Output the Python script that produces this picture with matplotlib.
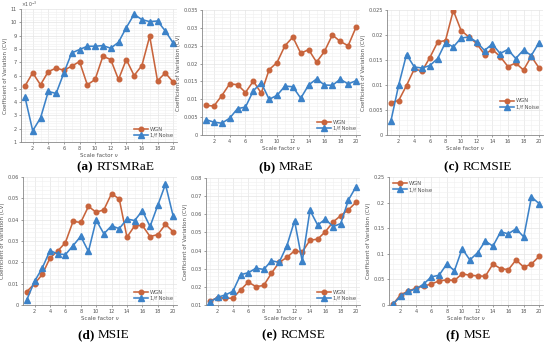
import matplotlib
matplotlib.use("Agg")
import matplotlib.pyplot as plt
from matplotlib.ticker import MultipleLocator, AutoMinorLocator, FixedLocator

# ---- data ----
scales = list(range(1, 21))

wgn_a = [5.2, 6.2, 5.3, 6.3, 6.55, 6.4, 6.7, 7.05, 5.3, 5.7, 7.45, 7.2, 5.7, 7.2, 6.0, 6.75, 8.95, 5.6, 6.2, 5.5]
pink_a = [4.4, 1.85, 2.8, 4.8, 4.65, 6.2, 7.7, 7.95, 8.2, 8.2, 8.25, 8.05, 8.5, 9.6, 10.6, 10.2, 10.05, 10.1, 9.35, 8.45]

wgn_b = [0.0083, 0.0081, 0.0110, 0.0143, 0.0141, 0.0119, 0.0151, 0.0117, 0.0183, 0.0203,
         0.0250, 0.0274, 0.0229, 0.0239, 0.0204, 0.0234, 0.0280, 0.0262, 0.0250, 0.0302]
pink_b = [0.0043, 0.0036, 0.0033, 0.0047, 0.0074, 0.0078, 0.0124, 0.0146, 0.0100, 0.0111,
          0.0137, 0.0135, 0.0103, 0.0140, 0.0157, 0.0140, 0.0139, 0.0156, 0.0143, 0.0152]

wgn_c = [0.0065, 0.0069, 0.0099, 0.0132, 0.0128, 0.0155, 0.0186, 0.0189, 0.0249, 0.0209,
         0.0196, 0.0183, 0.0161, 0.0171, 0.0157, 0.0137, 0.0144, 0.0130, 0.0157, 0.0134]
pink_c = [0.0028, 0.0100, 0.0161, 0.0136, 0.0134, 0.0139, 0.0153, 0.0185, 0.0176, 0.0194,
          0.0196, 0.0186, 0.0169, 0.0182, 0.0163, 0.0171, 0.0153, 0.0170, 0.0159, 0.0185]

wgn_d = [0.0063, 0.0100, 0.0143, 0.0220, 0.0253, 0.0292, 0.0392, 0.0387, 0.0462, 0.0435,
         0.0446, 0.0522, 0.0497, 0.0318, 0.0371, 0.0373, 0.0321, 0.0330, 0.0378, 0.0343]
pink_d = [0.0025, 0.0111, 0.0173, 0.0255, 0.0240, 0.0236, 0.0278, 0.0322, 0.0251, 0.0398,
          0.0334, 0.0371, 0.0358, 0.0403, 0.0396, 0.0442, 0.0368, 0.0467, 0.0566, 0.0417]

wgn_e = [0.0121, 0.0141, 0.0137, 0.0138, 0.0184, 0.0226, 0.0201, 0.0208, 0.0275, 0.0335,
         0.0362, 0.0399, 0.0392, 0.0457, 0.0463, 0.0504, 0.0557, 0.0593, 0.0625, 0.0667]
pink_e = [0.0115, 0.0143, 0.0155, 0.0176, 0.0267, 0.0278, 0.0303, 0.0296, 0.0344, 0.0335,
          0.0426, 0.0564, 0.0341, 0.0622, 0.0541, 0.0573, 0.0532, 0.0549, 0.0679, 0.0753]

wgn_f = [0.001, 0.020, 0.027, 0.033, 0.037, 0.041, 0.047, 0.049, 0.048, 0.061,
         0.058, 0.057, 0.056, 0.080, 0.071, 0.069, 0.088, 0.074, 0.080, 0.095]
pink_f = [0.001, 0.017, 0.027, 0.031, 0.041, 0.055, 0.058, 0.080, 0.067, 0.110,
          0.088, 0.102, 0.125, 0.115, 0.143, 0.139, 0.149, 0.133, 0.211, 0.198]

captions = [("(a)", "RTSMRaE"), ("(b)", "MRaE"), ("(c)", "RCMSIE"),
            ("(d)", "MSIE"), ("(e)", "RCMSE"), ("(f)", "MSE")]

WGN_COLOR = "#c8643c"
PINK_COLOR = "#3c82c8"

W, H = 550, 344
fig = plt.figure(figsize=(W / 100, H / 100), dpi=100)


def px_axes(l, t, r, b):
    return fig.add_axes([l / W, 1 - b / H, (r - l) / W, (b - t) / H])


# pixel box, series, ylim, major step, legend loc, legend anchor
panels = [
    ((21, 9, 177, 142), wgn_a, pink_a, (1, 11), 1, "lower right", None),
    ((202, 10, 360, 135), wgn_b, pink_b, (0, 0.035), 0.005, "lower right", None),
    ((387, 10, 543, 135), wgn_c, pink_c, (0, 0.025), 0.005, "lower right", (1.0, 0.17)),
    ((23, 177, 177, 305), wgn_d, pink_d, (0, 0.06), 0.01, "lower right", None),
    ((206, 178, 360, 305), wgn_e, pink_e, (0.01, 0.08), 0.01, "lower right", None),
    ((389, 177, 543, 305), wgn_f, pink_f, (0, 0.25), 0.05, "upper left", None),
]

for i, (box, wgn, pink, ylim, step, loc, anchor) in enumerate(panels):
    ax = px_axes(*box)
    ax.plot(scales, wgn, color=WGN_COLOR, marker="o", markersize=3.3, lw=1.15,
            label="WGN", zorder=3)
    ax.plot(scales, pink, color=PINK_COLOR, marker="^", markersize=3.8, lw=1.15,
            label="1/f Noise", zorder=3)
    ax.set_xlim(0.5, 20.5)
    ax.set_ylim(*ylim)
    ax.xaxis.set_major_locator(FixedLocator(range(2, 21, 2)))
    ax.xaxis.set_minor_locator(MultipleLocator(1))
    ax.yaxis.set_major_locator(MultipleLocator(step))
    ax.yaxis.set_minor_locator(AutoMinorLocator(5))
    ax.grid(which="major", color="#e4e4e4", lw=0.5)
    ax.grid(which="minor", color="#f0f0f0", lw=0.4)
    ax.set_axisbelow(True)
    for s in ["top", "right"]:
        ax.spines[s].set_visible(False)
    for s in ["left", "bottom"]:
        ax.spines[s].set_color("#888888")
        ax.spines[s].set_linewidth(0.6)
    ax.tick_params(which="major", labelsize=3.6, length=1.5, width=0.4,
                   colors="#555555", pad=1.5)
    ax.tick_params(which="minor", length=0)

    if i == 0:
        ax.yaxis.set_major_formatter(plt.FuncFormatter(lambda v, p: f"{v:g}"))
        ax.text(0.0, 1.0, r"$\times10^{-3}$", transform=ax.transAxes,
                fontsize=3.4, color="#555555", va="bottom", ha="left")
    else:
        ax.yaxis.set_major_formatter(plt.FuncFormatter(lambda v, p: f"{round(v, 4):g}"))

    ax.set_xlabel("Scale factor ν", fontsize=4, color="#555555", labelpad=1.5)
    ax.set_ylabel("Coefficient of Variation (CV)", fontsize=4, color="#555555",
                  labelpad=2)

    leg_kw = dict(loc=loc, fontsize=3.8, frameon=False, handlelength=2.6,
                  borderpad=0.3, labelspacing=0.2, handletextpad=0.4,
                  labelcolor="#555555")
    if anchor is not None:
        leg_kw["bbox_to_anchor"] = anchor
    ax.legend(**leg_kw)

    # caption under the panel
    l, t, r, b = box
    cx = (l + r) / 2 / W
    cy = 1 - (167 if i < 3 else 335) / H
    fig.text(cx - 0.005, cy, captions[i][0] + " ", fontsize=9.5, fontweight="bold",
             family="Liberation Serif", ha="right", va="center")
    fig.text(cx - 0.005, cy, captions[i][1], fontsize=9.5,
             family="Liberation Serif", ha="left", va="center")

fig.savefig("out.png", dpi=100)
